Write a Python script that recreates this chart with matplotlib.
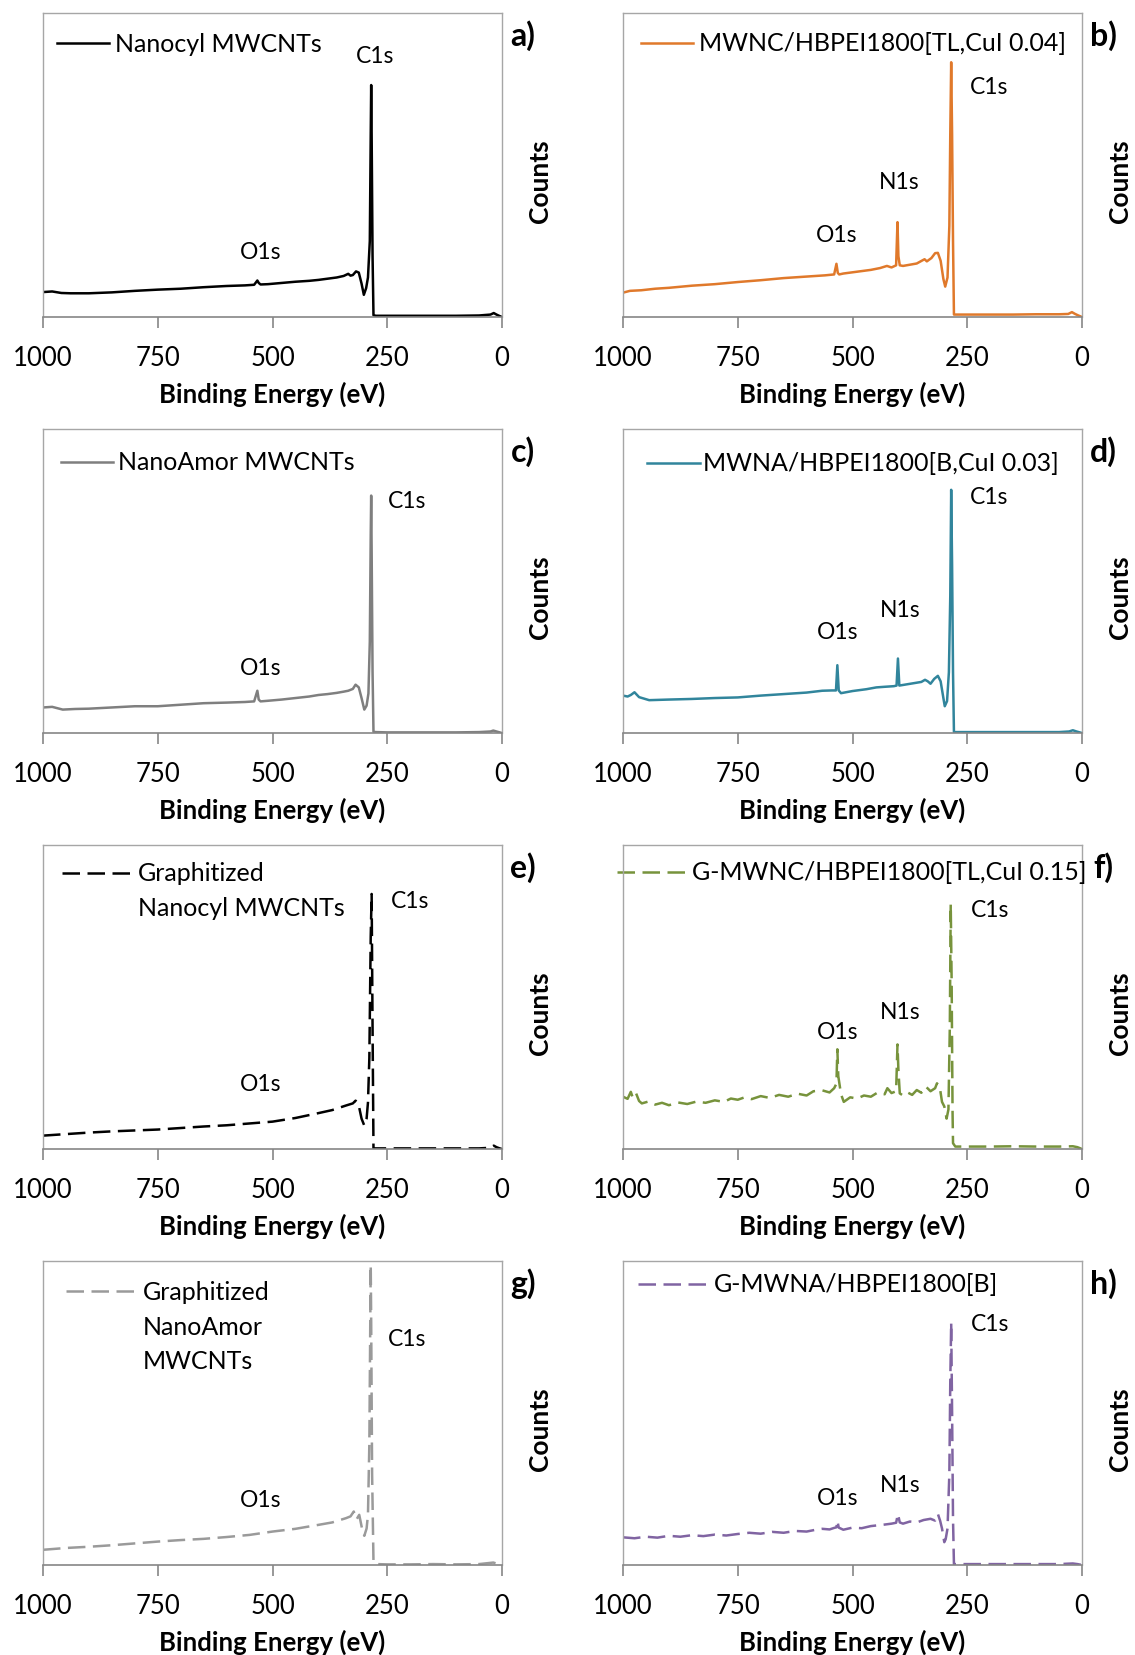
import matplotlib
matplotlib.use("Agg")
from matplotlib import pyplot as plt

plt.rcParams['font.family'] = ['Lato', 'DejaVu Sans']

# ---- spectra (binding energy in eV, counts in % of axis height)
a_be = [1000, 980, 960, 940, 900, 850, 800, 750, 700, 650, 600, 560, 540, 533, 530, 526, 510, 480, 450, 420,
        400, 380, 360, 345, 335, 330, 325, 318, 312, 306, 301, 296, 292, 288, 286, 285, 284, 282, 280, 275,
        250, 200, 150, 100, 50, 25, 18, 12, 5, 0]
a_ct = [8.2, 8.4, 7.9, 7.8, 7.8, 8.1, 8.6, 9.0, 9.3, 9.8, 10.2, 10.4, 10.6, 12.0, 11.2, 10.7, 10.8, 11.2, 11.6, 11.9,
        12.2, 12.6, 13.0, 13.5, 14.2, 13.6, 13.8, 15.0, 14.6, 11.0, 7.3, 9.5, 13.0, 25.0, 60.0, 76.3, 60.0, 20.0, 0.6, 0.4,
        0.4, 0.4, 0.4, 0.4, 0.5, 0.8, 1.3, 0.8, 0.3, 0.0]

b_be = [1000, 985, 960, 930, 900, 850, 800, 750, 700, 650, 600, 560, 540, 535, 532, 529, 520, 490, 460, 440,
        425, 415, 405, 402, 400, 397, 390, 375, 360, 348, 343, 338, 328, 320, 314, 308, 302, 298, 293, 289,
        287, 285, 283, 281, 279, 275, 250, 200, 150, 100, 50, 30, 22, 15, 8, 0]
b_ct = [8.0, 8.6, 8.8, 9.3, 9.6, 10.3, 10.8, 11.5, 12.1, 12.8, 13.3, 13.7, 14.0, 17.5, 14.5, 14.0, 14.3, 14.9, 15.5, 16.1,
        16.8, 16.3, 17.0, 31.2, 20.0, 17.0, 16.8, 17.2, 17.6, 18.6, 19.0, 18.3, 19.4, 21.0, 21.1, 18.5, 12.5, 10.0, 13.0, 30.0,
        60.0, 83.8, 60.0, 25.0, 0.8, 0.8, 0.8, 0.8, 0.8, 0.9, 0.9, 1.0, 1.6, 1.0, 0.5, 0.0]

c_be = [1000, 980, 957, 930, 900, 850, 800, 750, 700, 650, 600, 560, 540, 533, 530, 526, 510, 480, 450, 420,
        400, 380, 360, 345, 335, 325, 319, 312, 306, 300, 295, 291, 288, 286, 285, 284, 282, 280, 275, 250,
        200, 150, 100, 50, 25, 19, 12, 5, 0]
c_ct = [8.4, 8.6, 7.7, 7.9, 8.0, 8.4, 8.8, 8.8, 9.3, 9.8, 10.0, 10.2, 10.4, 13.9, 11.0, 10.4, 10.6, 11.0, 11.5, 12.0,
        12.5, 12.8, 13.2, 13.6, 13.9, 14.5, 15.9, 15.0, 11.5, 7.7, 9.0, 13.0, 30.0, 65.0, 78.1, 60.0, 20.0, 0.4, 0.3, 0.2,
        0.2, 0.2, 0.2, 0.3, 0.5, 0.8, 0.5, 0.2, 0.0]

d_be = [1000, 990, 983, 975, 965, 943, 900, 850, 800, 750, 700, 650, 600, 566, 545, 536, 533, 530, 525, 500,
        470, 448, 430, 410, 404, 401, 398, 390, 370, 350, 342, 336, 330, 322, 314, 308, 302, 299, 294, 290,
        287, 285, 283, 281, 279, 275, 250, 200, 150, 100, 50, 28, 20, 12, 5, 0]
d_ct = [12.3, 12.0, 12.5, 13.4, 11.8, 10.8, 11.0, 11.2, 11.5, 11.7, 12.3, 12.8, 13.3, 13.9, 14.0, 14.0, 22.3, 14.0, 13.1, 13.8,
        14.4, 15.0, 15.2, 15.4, 15.6, 24.5, 15.6, 15.8, 16.3, 16.8, 17.5, 17.0, 16.2, 17.8, 18.8, 17.0, 11.5, 8.8, 10.5, 20.0,
        45.0, 80.0, 55.0, 20.0, 0.3, 0.3, 0.3, 0.3, 0.3, 0.3, 0.3, 0.5, 0.9, 0.5, 0.2, 0.0]

e_be = [1000, 950, 900, 850, 800, 750, 700, 650, 600, 550, 500, 450, 400, 370, 340, 325, 319, 313, 306, 300,
        295, 292, 289, 286, 284, 282, 280, 275, 250, 200, 150, 100, 50, 25, 18, 12, 5, 0]
e_ct = [4.4, 4.9, 5.4, 5.8, 6.1, 6.4, 6.9, 7.4, 7.8, 8.4, 9.0, 10.2, 11.8, 12.8, 14.3, 15.0, 15.9, 15.0, 10.0, 7.7,
        10.0, 15.3, 30.0, 70.0, 83.9, 40.0, 0.2, 0.2, 0.2, 0.2, 0.2, 0.2, 0.2, 0.4, 1.1, 0.6, 0.2, 0.0]

f_be = [1000, 990, 983, 979, 972, 965, 959, 945, 930, 915, 900, 880, 860, 840, 820, 800, 780, 765, 750, 735,
        720, 700, 680, 660, 640, 620, 600, 585, 566, 550, 540, 535, 533, 531, 525, 519, 505, 490, 475, 460,
        445, 430, 424, 415, 405, 402, 400, 397, 390, 380, 370, 360, 350, 340, 330, 320, 316, 310, 305, 300,
        295, 291, 288, 286, 284, 282, 281, 276, 271, 250, 200, 150, 100, 50, 20, 10, 0]
f_ct = [17.2, 16.5, 18.8, 17.0, 18.5, 15.8, 15.0, 15.6, 14.6, 15.2, 14.4, 15.3, 14.8, 15.6, 15.2, 16.0, 15.5, 16.6, 16.2, 17.0,
        16.4, 17.4, 16.8, 17.8, 17.2, 18.2, 17.6, 19.0, 19.3, 18.6, 20.0, 21.5, 32.8, 24.0, 18.0, 15.5, 17.0, 16.6, 17.6, 17.2,
        18.6, 18.0, 20.0, 18.4, 19.0, 34.4, 26.0, 18.3, 17.6, 18.6, 17.8, 19.4, 18.5, 20.5, 19.0, 20.0, 21.6, 20.5, 15.5, 14.0,
        10.0, 13.0, 40.0, 80.6, 55.0, 12.0, 1.9, 0.8, 0.8, 0.8, 0.8, 0.9, 0.8, 0.8, 0.9, 0.6, 0.0]

g_be = [1000, 950, 900, 850, 800, 750, 700, 650, 600, 550, 500, 450, 400, 370, 340, 330, 323, 317, 311, 305,
        300, 295, 292, 289, 287, 286, 285, 283, 280, 275, 250, 200, 150, 100, 50, 19, 10, 0]
g_ct = [5.0, 5.6, 6.0, 6.5, 7.1, 7.7, 8.2, 8.6, 9.2, 9.9, 11.0, 11.9, 13.2, 14.0, 15.4, 16.0, 17.6, 15.0, 16.5, 12.0,
        9.6, 12.0, 16.5, 40.0, 80.0, 98.7, 80.0, 30.0, 1.1, 0.3, 0.2, 0.2, 0.3, 0.2, 0.3, 0.8, 0.4, 0.0]

h_be = [1000, 975, 950, 925, 900, 875, 850, 825, 800, 775, 750, 725, 700, 675, 650, 625, 600, 580, 566, 550,
        540, 535, 533, 530, 520, 500, 480, 460, 448, 430, 415, 405, 401, 397, 390, 375, 360, 345, 330, 320,
        314, 309, 305, 300, 297, 293, 289, 287, 285, 283, 281, 279, 275, 250, 200, 150, 100, 50, 20, 10, 0]
h_ct = [9.1, 8.8, 9.3, 9.0, 9.6, 9.3, 9.8, 9.5, 10.0, 9.7, 10.2, 10.6, 10.3, 10.9, 10.6, 11.2, 11.0, 11.6, 11.9, 11.7,
        12.2, 12.4, 14.6, 12.3, 11.6, 12.3, 12.1, 12.8, 13.0, 13.3, 13.6, 13.9, 16.8, 14.0, 13.6, 14.3, 14.0, 14.8, 15.2, 14.6,
        16.8, 14.5, 12.0, 7.5, 8.5, 12.0, 30.0, 60.0, 79.8, 50.0, 15.0, 0.3, 0.3, 0.3, 0.3, 0.3, 0.3, 0.3, 0.5, 0.3, 0.0]

series_names = ["Nanocyl MWCNTs",
                "MWNC/HBPEI1800[TL,CuI 0.04]",
                "NanoAmor MWCNTs",
                "MWNA/HBPEI1800[B,CuI 0.03]",
                "Graphitized\nNanocyl MWCNTs",
                "G-MWNC/HBPEI1800[TL,CuI 0.15]",
                "Graphitized\nNanoAmor\nMWCNTs",
                "G-MWNA/HBPEI1800[B]"]
panel_tags = ["a)", "b)", "c)", "d)", "e)", "f)", "g)", "h)"]
x_ticks = [1000, 750, 500, 250, 0]

# peak labels: (text, eV, counts)
peak_labels = [
    [("C1s", 276, 85.9), ("O1s", 525, 21.4)],
    [("C1s", 203, 75.7), ("N1s", 399, 44.7), ("O1s", 535, 27.3)],
    [("C1s", 206, 76.4), ("O1s", 525, 21.6)],
    [("C1s", 203, 77.7), ("N1s", 396, 40.7), ("O1s", 533, 33.4)],
    [("C1s", 201, 81.6), ("O1s", 525, 21.4)],
    [("C1s", 200, 78.9), ("N1s", 396, 45.1), ("O1s", 533, 38.5)],
    [("C1s", 206, 74.5), ("O1s", 525, 21.5)],
    [("C1s", 200, 79.5), ("N1s", 396, 26.5), ("O1s", 533, 22.2)],
]

spectra = [(a_be, a_ct), (b_be, b_ct), (c_be, c_ct), (d_be, d_ct),
           (e_be, e_ct), (f_be, f_ct), (g_be, g_ct), (h_be, h_ct)]
colors = ["#000000", "#E0792B", "#7F7F7F", "#31859C", "#000000", "#77933C", "#9A9A9A", "#8064A2"]
dashed = [False, False, False, False, True, True, True, True]
# legend handle: x start, x end, y (axes fraction); text x
legend_pos = [(0.031, 0.144, 0.900, 0.157), (0.039, 0.153, 0.902, 0.165),
              (0.040, 0.152, 0.893, 0.164), (0.052, 0.167, 0.889, 0.175),
              (0.042, 0.194, 0.908, 0.206), (-0.014, 0.137, 0.912, 0.151),
              (0.051, 0.203, 0.900, 0.217), (0.033, 0.186, 0.925, 0.198)]
line_step = 0.114

W, H = 1135, 1656
fig = plt.figure(figsize=(W / 100, H / 100), dpi=100)

col_left = [43, 623]
col_width = [459, 459]
row_bottom = [318, 734, 1150, 1566]
ax_h = 304

for i in range(8):
    r, c = divmod(i, 2)
    ax = fig.add_axes([col_left[c] / W, 1 - row_bottom[r] / H, col_width[c] / W, ax_h / H])
    be, ct = spectra[i]
    ls = (0, (7, 3)) if dashed[i] else '-'
    ax.plot(be, ct, color=colors[i], lw=1.8, ls=ls, solid_joinstyle='round')
    ax.set_xlim(1000, 0)
    ax.set_ylim(0, 100)
    ax.set_xticks(x_ticks)
    ax.set_yticks([])
    for side in ['top', 'left', 'right']:
        ax.spines[side].set_color('#A6A6A6')
        ax.spines[side].set_linewidth(1.0)
    ax.spines['bottom'].set_color('#868686')
    ax.spines['bottom'].set_linewidth(1.2)
    ax.tick_params(axis='x', direction='out', length=8, width=1.2, color='#868686',
                   labelsize=18.5, pad=12, labelcolor='black')
    ax.set_xlabel("Binding Energy (eV)", fontsize=18.5, fontweight='bold', labelpad=8)

    ax.text(1.083, 0.45, "Counts", transform=ax.transAxes, rotation=90,
            ha='center', va='center', fontsize=19, fontweight='bold')
    ax.text(1.046, 0.93, panel_tags[i], transform=ax.transAxes,
            ha='center', va='center', fontsize=23, fontweight='bold')

    x0, x1, ly, tx = legend_pos[i]
    ax.plot([x0, x1], [ly, ly], transform=ax.transAxes, color=colors[i], lw=1.8,
            ls=ls, clip_on=False)
    for k, part in enumerate(series_names[i].split("\n")):
        ax.text(tx, ly - k * line_step, part, transform=ax.transAxes, ha='left',
                va='center', fontsize=18)

    for name, xv, yv in peak_labels[i]:
        ax.text(xv, yv, name, ha='center', va='center', fontsize=16.5)

fig.savefig("out.png", dpi=100)
